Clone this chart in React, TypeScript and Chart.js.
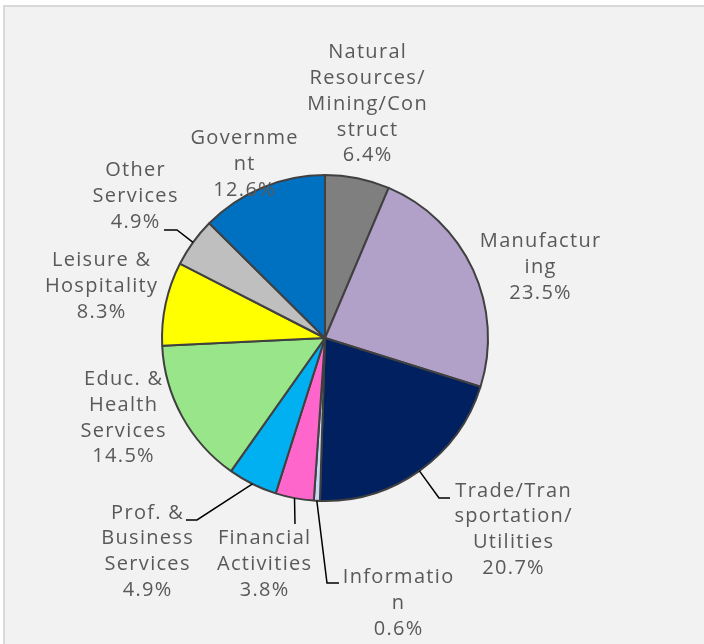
import React, { useEffect, useRef } from "react";
import { Chart, registerables } from "chart.js";

Chart.register(...registerables);

// ---- data ----
const categories: string[][] = [
  ["Natural", "Resources/", "Mining/Con", "struct"],
  ["Manufactur", "ing"],
  ["Trade/Tran", "sportation/", "Utilities"],
  ["Informatio", "n"],
  ["Financial", "Activities"],
  ["Prof. &", "Business", "Services"],
  ["Educ. &", "Health", "Services"],
  ["Leisure &", "Hospitality"],
  ["Other", "Services"],
  ["Governme", "nt"],
];
const values: number[] = [6.4, 23.5, 20.7, 0.6, 3.8, 4.9, 14.5, 8.3, 4.9, 12.6];
const percentLabels: string[] = values.map((v) => v.toFixed(1) + "%");

// ---- styles / layout ----
const colors: string[] = [
  "#7f7f7f",
  "#b1a0c7",
  "#002060",
  "#c6d9f0",
  "#ff66cc",
  "#00b0f0",
  "#99e68a",
  "#ffff00",
  "#bfbfbf",
  "#0070c0",
];
// label block centre, relative to pie centre
const labelOffsets: [number, number][] = [
  [42, -234],
  [215, -71],
  [188, 191.5],
  [73, 265],
  [-61, 226],
  [-178, 213.5],
  [-202, 80],
  [-224, -51.5],
  [-190, -141.5],
  [-81, -174],
];
// leader line elbow and end, relative to pie centre (null = no leader)
const leaderPaths: ([number, number][] | null)[] = [
  null,
  null,
  [[114, 160], [125, 160]],
  [[2, 245], [14, 245]],
  [[-30, 186]],
  [[-128, 182], [-139, 182]],
  null,
  null,
  [[-148, -108], [-161, -108]],
  null,
];
const LINE_H = 25.8;

const labelPlugin = {
  id: "outsideLabels",
  afterDatasetsDraw(chart: any) {
    const ctx: CanvasRenderingContext2D = chart.ctx;
    const meta = chart.getDatasetMeta(0);
    ctx.save();
    meta.data.forEach((arc: any, i: number) => {
      const p = arc.getProps(["x", "y", "startAngle", "endAngle", "outerRadius"], true);
      const cx = p.x;
      const cy = p.y;
      const path = leaderPaths[i];
      if (path) {
        const mid = (p.startAngle + p.endAngle) / 2;
        const sx = cx + Math.cos(mid) * p.outerRadius;
        const sy = cy + Math.sin(mid) * p.outerRadius;
        ctx.beginPath();
        ctx.strokeStyle = "#000000";
        ctx.lineWidth = 1.5;
        ctx.moveTo(sx, sy);
        path.forEach(([dx, dy]) => ctx.lineTo(cx + dx, cy + dy));
        ctx.stroke();
      }
      const lines = [...categories[i], percentLabels[i]];
      const [ox, oy] = labelOffsets[i];
      const bx = cx + ox;
      const by = cy + oy - ((lines.length - 1) * LINE_H) / 2;
      ctx.fillStyle = "#595959";
      ctx.font = '20px "Open Sans"';
      (ctx as any).letterSpacing = "1.3px";
      ctx.textAlign = "center";
      ctx.textBaseline = "middle";
      lines.forEach((t, k) => ctx.fillText(t, bx + 0.65, by + k * LINE_H));
    });
    ctx.restore();
  },
};

export default function App() {
  const ref = useRef<HTMLCanvasElement | null>(null);
  useEffect(() => {
    if (!ref.current) return;
    const chart = new Chart(ref.current, {
      type: "pie",
      data: {
        labels: categories.map((c) => c.join("")),
        datasets: [
          {
            data: values,
            backgroundColor: colors,
            borderColor: "#404040",
            borderWidth: 2,
          },
        ],
      },
      options: {
        animation: false,
        responsive: false,
        radius: 163,
        layout: { padding: { left: 0, right: 54, top: 32, bottom: 0 } },
        plugins: {
          legend: { display: false },
          tooltip: { enabled: false },
        },
      },
      plugins: [labelPlugin],
    });
    return () => chart.destroy();
  }, []);

  return (
    <div style={{ position: "fixed", left: 0, top: 0, width: 704, height: 644, background: "#ffffff", overflow: "hidden" }}>
      <div
        style={{
          position: "absolute",
          left: 3,
          top: 5,
          width: 720,
          height: 680,
          border: "2px solid #d9d9d9",
          background: "#f2f2f2",
        }}
      />
      <canvas ref={ref} width={704} height={644} style={{ position: "absolute", left: 0, top: 0, width: 704, height: 644 }} />
    </div>
  );
}
